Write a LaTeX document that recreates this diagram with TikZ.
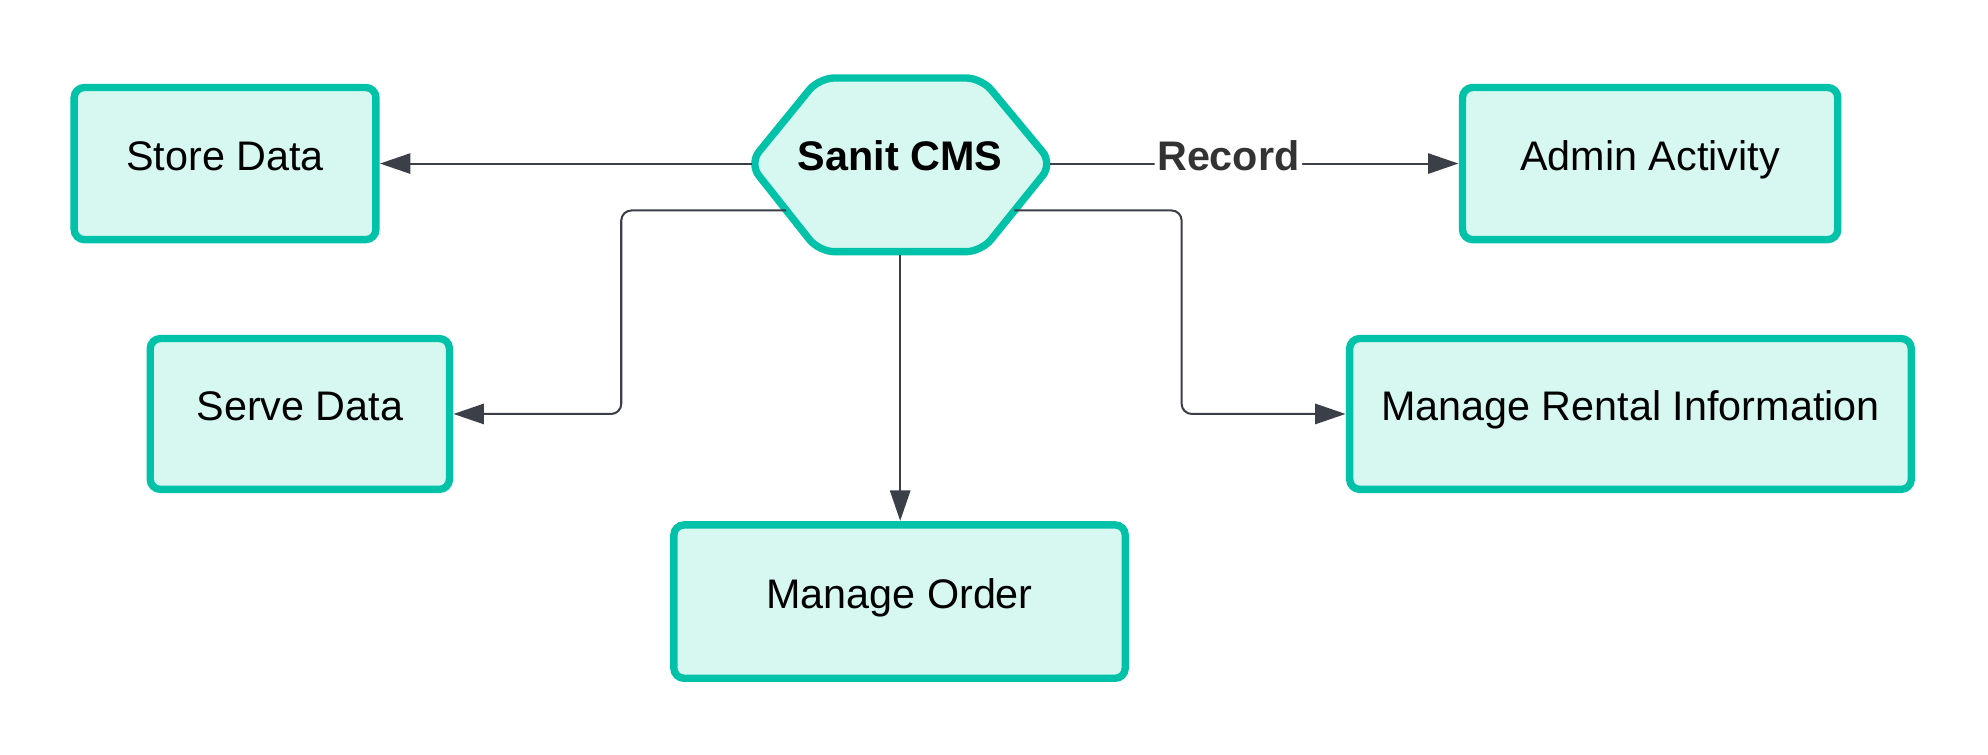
\documentclass[tikz,border=0pt]{standalone}
\usepackage{fontspec}
\setmainfont{Liberation Sans}
\usetikzlibrary{arrows.meta}
\definecolor{cmsteal}{HTML}{00C2A8}
\definecolor{cmsfill}{HTML}{D6F8F1}
\definecolor{linegray}{HTML}{3A3F48}
\definecolor{labelgray}{HTML}{333333}
\begin{document}
\begin{tikzpicture}[x=0.5pt,y=-0.5pt,
  box/.style={draw=cmsteal, fill=cmsfill, line width=2.9pt, rounded corners=4pt,
    font=\fontsize{16.3}{19}\selectfont, inner sep=0pt, outer sep=1.6pt,
    text height=0.77em, text depth=0.23em},
  hexshape/.style={draw=cmsteal, fill=cmsfill, line width=2.9pt, rounded corners=6pt},
  conn/.style={draw=linegray, line width=0.8pt, rounded corners=4pt,
    -{Triangle[length=12pt,width=8pt]}},
  lbl/.style={font=\fontsize{16.3}{19}\selectfont\bfseries, text=labelgray, fill=white, inner sep=1pt,
    text height=0.77em, text depth=0.23em}]
\useasboundingbox (0,0) rectangle (1568,595);
% boxes
\node[box, minimum width=119pt, minimum height=60pt] (store) at (177.5,129) {Store Data};
\node[box, minimum width=118pt, minimum height=59.5pt] (serve) at (236.5,326.5) {Serve Data};
\node[box, minimum width=148pt, minimum height=60pt] (admin) at (1301.5,129) {Admin Activity};
\node[box, minimum width=221.5pt, minimum height=59.5pt] (rental) at (1286,326.5) {Manage Rental Information};
\node[box, minimum width=178pt, minimum height=60.5pt] (order) at (709.5,474.5) {Manage Order};
% hexagon
\draw[hexshape] (591,129) -- (646,61.5) -- (774,61.5) -- (830,129) -- (774,198.5) -- (646,198.5) -- cycle;
\node[font=\fontsize{16.3}{19}\selectfont\bfseries, inner sep=0pt, text height=0.77em, text depth=0.23em] (hex) at (710,129) {Sanit CMS};
\coordinate (hexL) at (593,129);
\coordinate (hexR) at (828,129);
\coordinate (hexB) at (710,201);
\coordinate (hexLL) at (620,166);
\coordinate (hexRL) at (800,166);
% connectors
\draw[conn] (hexL) -- (store.east);
\draw[conn] (hexLL) -- (490,166) |- (serve.east);
\draw[conn] (hexB) -- (hexB |- order.north);
\draw[conn] (hexRL) -- (932,166) |- (rental.west);
\draw[conn] (hexR) -- node[lbl, pos=0.437] {Record} (admin.west);
\end{tikzpicture}
\end{document}
